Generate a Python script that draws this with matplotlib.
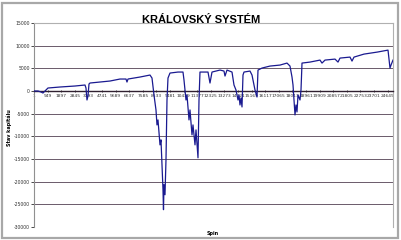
import matplotlib
matplotlib.use('Agg')
import matplotlib.pyplot as plt
from matplotlib.patches import Rectangle

# capital after each spin (key points)
spins = [1, 279, 488, 627, 767, 906, 976, 1812, 2858, 3555, 3624, 3694, 3764, 3834, 3903,
         4600, 5297, 5994, 6412, 6482, 6552, 7388, 8085, 8225, 8364, 8503, 8573, 8643,
         8782, 8852, 8922, 8991, 9026, 9061, 9131, 9200, 9270, 9340, 9479, 10037, 10385,
         10455, 10594, 10664, 10804, 10873, 11013, 11082, 11222, 11292, 11431, 11501,
         11570, 12128, 12267, 12407, 12964, 13243, 13313, 13452, 13801, 13940, 14079,
         14219, 14289, 14358, 14428, 14498, 14567, 14637, 15055, 15195, 15404, 15543,
         15613, 15892, 16449, 17146, 17634, 17843, 17983, 18053, 18122, 18192, 18261,
         18331, 18401, 18540, 18610, 18680, 19237, 19934, 20074, 20283, 20980, 21189,
         21328, 22025, 22165, 22304, 23000, 23916, 24674, 24813, 24883, 25022]
capital = [0, 0, -220, -440, 0, 440, 660, 880, 1100, 1320, 660, -1980, -1100, 1540, 1760,
           1980, 2200, 2640, 2640, 1980, 2640, 3080, 3520, 2860, -880, -4180, -7480, -6380,
           -11880, -10780, -16280, -21780, -26180, -20680, -22880, -15180, -1980, 2860,
           3960, 4180, 4180, 2420, -1980, -880, -6380, -4180, -9680, -7480, -11880, -8580,
           -14740, -1980, 4180, 4180, 1760, 4180, 4620, 4400, 3300, 4620, 4180, 1320, 220,
           -1980, -880, -3080, -1540, -3520, 3520, 4180, 4400, 3520, 220, -1320, 4620,
           5060, 5500, 5720, 6160, 5500, 3080, 1320, -1980, -5280, -3080, -4620, -880,
           -1980, 220, 6160, 6380, 6820, 6160, 6820, 7040, 6380, 7260, 7480, 6600, 7480,
           8140, 8580, 9020, 5060, 5720, 6820]

xticks = list(range(1, 24650, 948))
yticks = list(range(-30000, 15001, 5000))

fig = plt.figure(figsize=(4.02, 2.40), dpi=100)
fig.patches.append(Rectangle((0.006, 0.01), 0.985, 0.978, transform=fig.transFigure,
                             fill=False, edgecolor='#a8a8a8', linewidth=1.6))
ax = fig.add_axes([34/402, 1 - 227/240, (393 - 34)/402, (227 - 23)/240])

for yv in yticks:
    if yv != 0:
        ax.axhline(yv, color='#6a5a6a', linewidth=0.7, zorder=0)

ax.plot(spins, capital, color='#1a1a90', linewidth=0.9, zorder=3)

ax.set_xlim(1, 25022)
ax.set_ylim(-30000, 15000)
ax.spines['bottom'].set_position(('data', 0))
ax.spines['bottom'].set_color('#302030')
ax.spines['bottom'].set_linewidth(1.0)
ax.spines['left'].set_color('#909090')
ax.spines['right'].set_color('#b0b0b0')
ax.spines['top'].set_color('#b0b0b0')
ax.set_xticks(xticks)
ax.set_xticklabels([str(t) for t in xticks], fontsize=3.2, color='#303030')
ax.set_yticks(yticks)
ax.set_yticklabels([str(t) for t in yticks], fontsize=3.3, color='#303030')
ax.tick_params(axis='x', length=2, width=0.5, pad=1, direction='inout')
ax.tick_params(axis='y', length=2, width=0.5, pad=1)

fig.text(0.5, 1 - 20/240, 'KRÁLOVSKÝ SYSTÉM', ha='center', va='center',
         fontsize=8, fontweight='bold', family='Liberation Sans')
fig.text(213/402, 1 - 233/240, 'Spin', ha='center', va='center', fontsize=3.5,
         fontweight='bold')
fig.text(9/402, 1 - 128/240, 'Stav kapitálu', ha='center', va='center', fontsize=3.5,
         fontweight='bold', rotation=90)

fig.savefig('out.png', dpi=100)
